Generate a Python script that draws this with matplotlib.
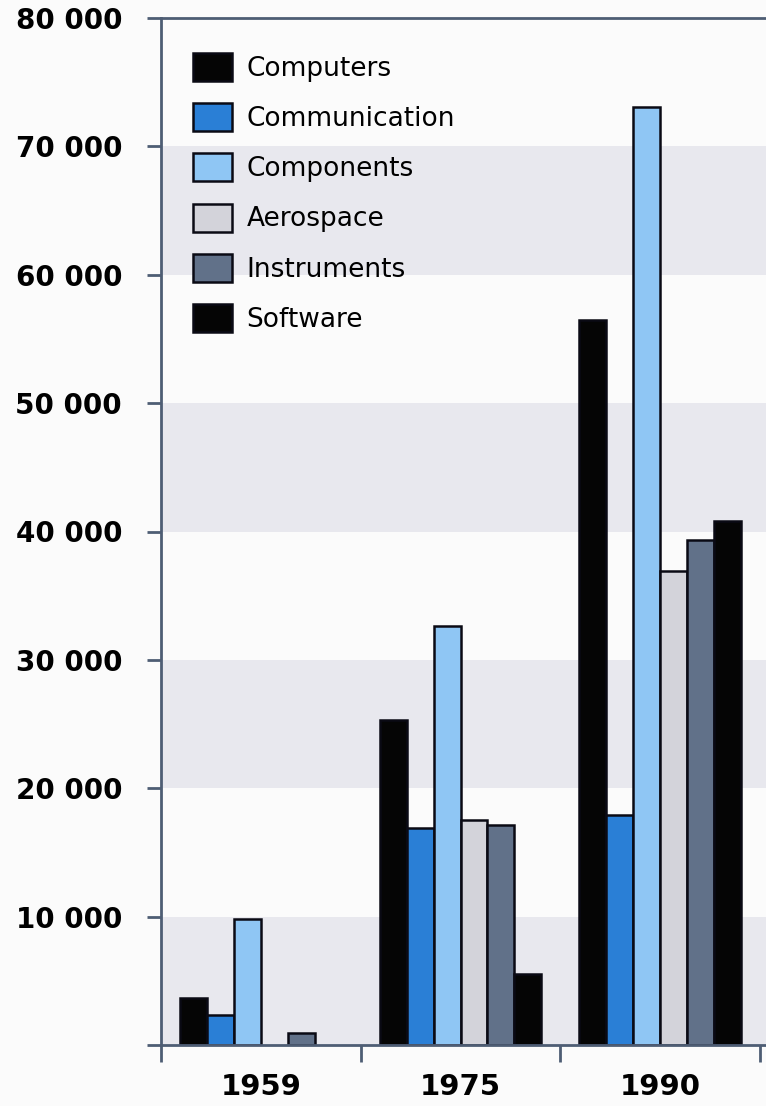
import numpy as np
import matplotlib
matplotlib.use("Agg")
import matplotlib.pyplot as plt
from matplotlib.ticker import FuncFormatter, FixedLocator
from matplotlib.patches import Patch

years = ["1959", "1975", "1990"]
series = ["Computers", "Communication", "Components", "Aerospace", "Instruments", "Software"]
computers = [3700, 25300, 56500]
communication = [2300, 16900, 17900]
components = [9850, 32600, 73100]
aerospace = [0, 17500, 36900]
instruments = [950, 17100, 39300]
software = [0, 5500, 40800]
values = [computers, communication, components, aerospace, instruments, software]
colors = ["#050505", "#2a7fd6", "#8fc6f4", "#d3d3da", "#617189", "#050505"]
yticks = [0, 10000, 20000, 30000, 40000, 50000, 60000, 70000, 80000]

W, H = 766, 1106
fig = plt.figure(figsize=(W / 100, H / 100), dpi=100)
fig.patch.set_facecolor("#fbfbfb")
ax = fig.add_axes([161 / W, 1 - 1045 / H, (W - 161) / W, (1045 - 18) / H])
ax.set_facecolor("#fbfbfb")

# alternating bands
for lo in [0, 20000, 40000, 60000]:
    ax.axhspan(lo, lo + 10000, color="#e8e8ee", zorder=0, lw=0)

x = np.arange(len(years))
n = len(series)
bw = 0.135
for i, (name, vals, c) in enumerate(zip(series, values, colors)):
    off = (i - (n - 1) / 2) * bw
    v = np.array(vals, dtype=float)
    v[v == 0] = np.nan
    ax.bar(x + off, v, width=bw, color=c, edgecolor="#0a0a14", linewidth=1.8, zorder=2)

ax.set_ylim(0, 80000)
ax.set_xlim(-0.5, 2.53)

spc = "#4e5d74"
for s in ["left", "bottom", "top"]:
    ax.spines[s].set_color(spc)
    ax.spines[s].set_linewidth(2)
ax.spines["right"].set_visible(False)

ax.set_yticks(yticks)
ax.yaxis.set_major_formatter(FuncFormatter(
    lambda v, p: "" if v == 0 else "{:,}".format(int(v)).replace(",", " ")))
ax.tick_params(axis="y", direction="out", length=10, width=2, color=spc, pad=18,
               labelsize=20)
for t in ax.get_yticklabels():
    t.set_fontweight("bold")

ax.xaxis.set_major_locator(FixedLocator([-0.5, 0.5, 1.5, 2.5]))
ax.xaxis.set_major_formatter(FuncFormatter(lambda v, p: ""))
ax.xaxis.set_minor_locator(FixedLocator(list(x)))
ax.set_xticklabels(years, minor=True)
ax.tick_params(axis="x", which="major", direction="out", length=12, width=2, color=spc)
ax.tick_params(axis="x", which="minor", length=0, pad=20, labelsize=21)
for t in ax.get_xticklabels(minor=True):
    t.set_fontweight("bold")

handles = [Patch(facecolor=c, edgecolor="#0a0a14", linewidth=1.8) for c in colors]
leg = ax.legend(handles, series, loc="upper left",
                bbox_to_anchor=(32 / (W - 161), 1 - (53 - 18) / (1045 - 18)),
                frameon=False, fontsize=19, handlelength=1.48, handleheight=1.25,
                labelspacing=0.81, handletextpad=0.55, borderaxespad=0, borderpad=0)

fig.savefig("out.png", dpi=100, facecolor=fig.get_facecolor())
